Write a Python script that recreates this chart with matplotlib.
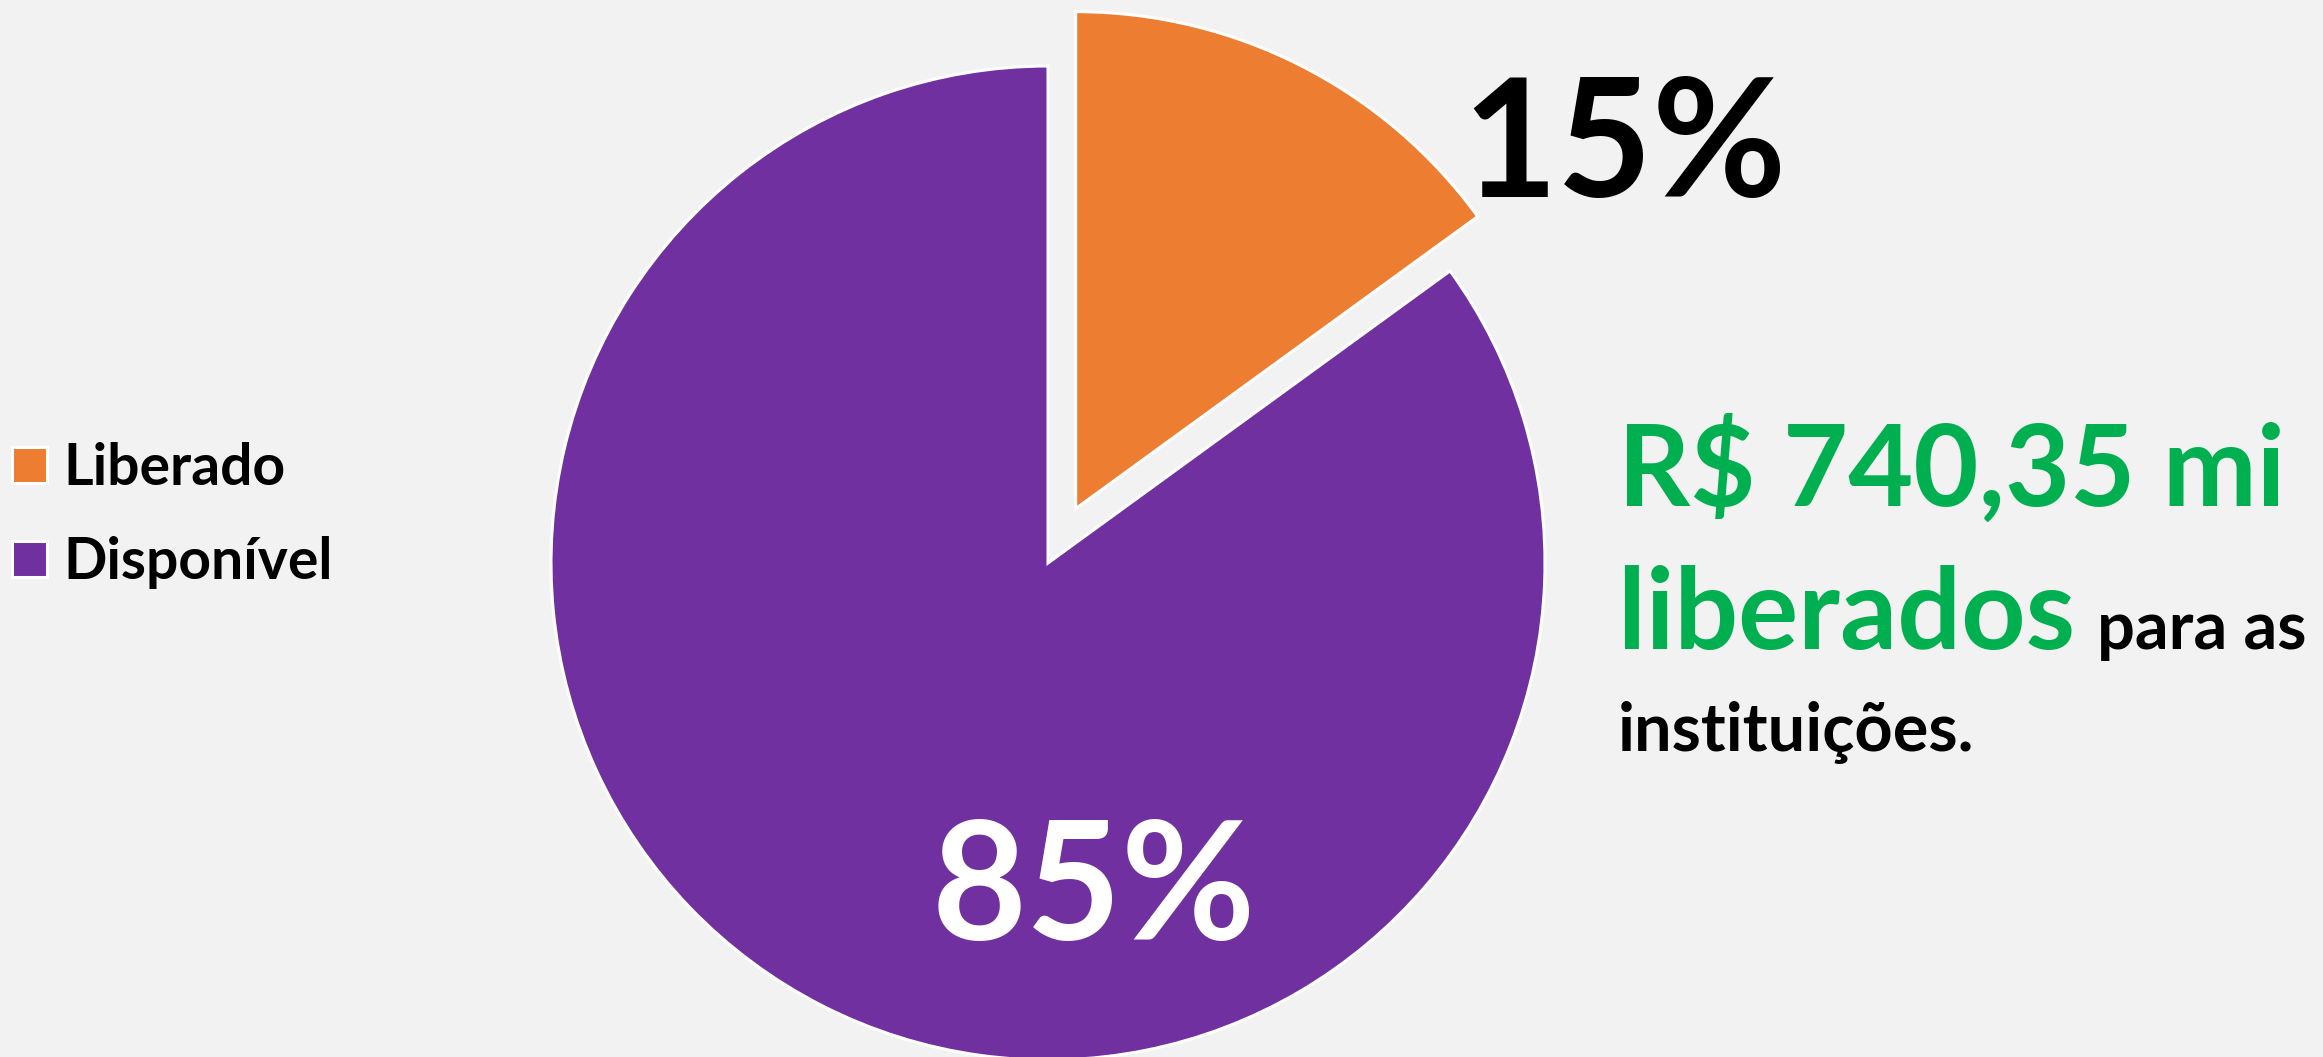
import numpy as np
import matplotlib.pyplot as plt

plt.rcParams['font.family'] = ['Lato', 'DejaVu Sans']
plt.rcParams['font.weight'] = 'bold'

# dados do grafico
labels = ['Liberado', 'Disponível']
shares = [15, 85]
colors = ['#ED7D31', '#7030A0']
explode_px = [61, 0]
valor_liberado = 'R$ 740,35 mi'
texto_verde = 'liberados'
texto_preto_1 = 'para as'
texto_preto_2 = 'instituições.'

W, H = 2323, 1057
bg = '#F2F2F2'
green = '#00B050'

fig = plt.figure(figsize=(W / 100, H / 100), dpi=100, facecolor=bg)
ax = fig.add_axes([0, 0, 1, 1])
ax.set_facecolor(bg)

wedges, _ = ax.pie(shares, colors=colors, explode=explode_px, startangle=90,
                   counterclock=False, center=(1048, H - 563), radius=497,
                   frame=True,
                   wedgeprops=dict(edgecolor='white', linewidth=2.2))
ax.set_xlim(0, W)
ax.set_ylim(0, H)
ax.set_aspect('equal')
ax.axis('off')

# percentuais
ax.text(1462, H - 197, f'{shares[0]}%', fontsize=118, color='black',
        ha='left', va='baseline')
ax.text(932, H - 940, f'{shares[1]}%', fontsize=118, color='white',
        ha='left', va='baseline')

# texto lateral
ax.text(1618, H - 506, valor_liberado, fontsize=81, color=green,
        ha='left', va='baseline')
t_lib = ax.text(1618, H - 649, texto_verde, fontsize=81, color=green,
                ha='left', va='baseline')
ax.annotate(texto_preto_1, xy=(1, H - 649), xycoords=(t_lib, 'data'),
            xytext=(16, 0), textcoords='offset points', fontsize=48,
            color='black', ha='left', va='baseline')
ax.text(1618, H - 751, texto_preto_2, fontsize=48, color='black',
        ha='left', va='baseline')

# legenda
ax.legend(wedges, labels, loc='upper left', bbox_to_anchor=(1 / W, 1 - 431 / H),
          frameon=False, fontsize=41, handlelength=0.6, handleheight=0.6,
          handletextpad=0.3, labelspacing=0.72, borderpad=0.2, borderaxespad=0)

fig.savefig('out.png', dpi=100, facecolor=bg)
